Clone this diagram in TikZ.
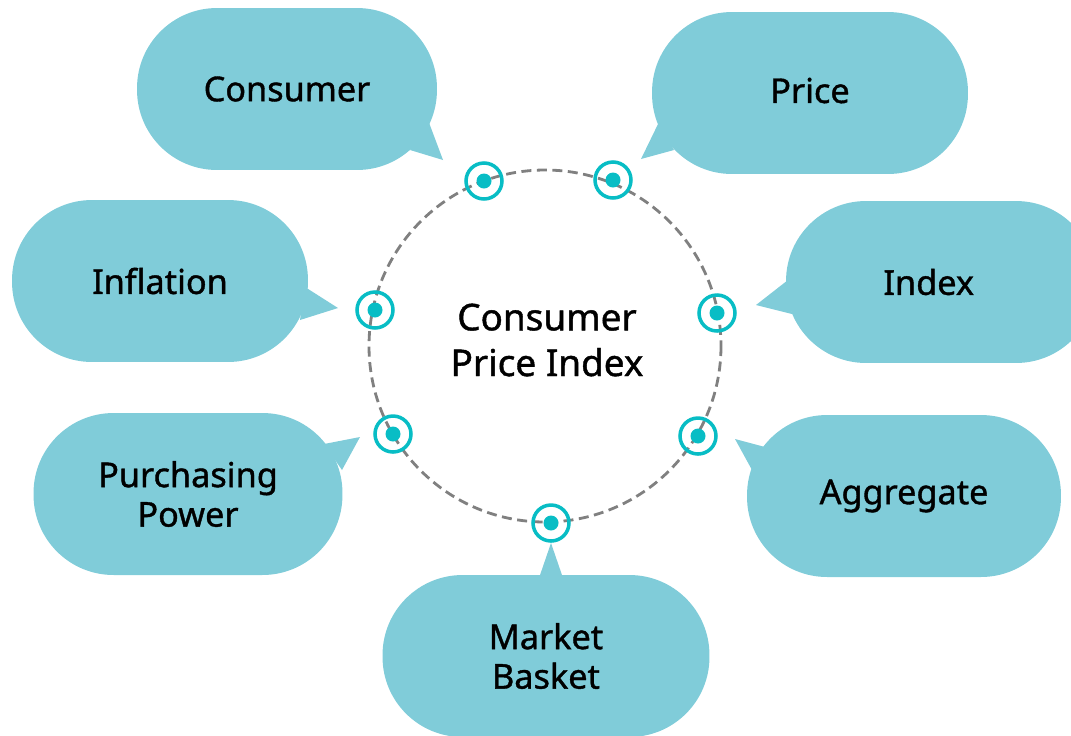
\documentclass[tikz,border=0pt]{standalone}
\usepackage{fontspec}
\setmainfont{Noto Sans}[FakeBold=1.1]
\usetikzlibrary{calc}

\definecolor{bubblefill}{RGB}{128,204,217}
\definecolor{ringcol}{RGB}{8,189,197}
\definecolor{trackcol}{RGB}{128,128,128}

\tikzset{
  bubble/.style={fill=bubblefill, rounded corners=1.6cm, minimum height=3.24cm,
    align=center, inner sep=0pt, font=\fontsize{19.5}{22.5}\selectfont\bfseries},
  ring/.style={circle, draw=ringcol, line width=2pt, minimum size=0.72cm, inner sep=0pt},
  dot/.style={circle, fill=ringcol, minimum size=0.3cm, inner sep=0pt},
}

\begin{document}
\begin{tikzpicture}[x=0.02cm,y=-0.02cm]
  \useasboundingbox (0,0) rectangle (1071,735);
  \clip (0,0) rectangle (1071,735);

  % tails of the bubbles
  \foreach \tip/\ba/\bb in {{(443,160)}/{(428,120)}/{(410,150)},
                            {(641,159)}/{(659,122)}/{(674,150)},
                            {(338,308)}/{(305,287)}/{(300,320)},
                            {(756,305)}/{(788,280)}/{(792,314)},
                            {(360,437)}/{(324,444)}/{(342,470)},
                            {(735,439)}/{(765,447)}/{(752,470)},
                            {(551,543)}/{(539,578)}/{(563,578)}}
    \fill[bubblefill] \tip -- \ba -- \bb -- cycle;

  % bubbles
  \node[bubble, minimum width=6cm]    (consumer)  at (287,89)  {Consumer};
  \node[bubble, minimum width=6.32cm] (price)     at (810,93)  {\raisebox{3pt}{Price}};
  \node[bubble, minimum width=5.92cm] (inflation) at (160,281) {Inflation};
  \node[bubble, minimum width=6.2cm]  (index)     at (941,282) {\hspace*{-14pt}Index};
  \node[bubble, minimum width=6.18cm] (purchasing) at (188,494) {Purchasing\\Power};
  \node[bubble, minimum width=6.28cm] (aggregate) at (904,496) {Aggregate};
  \node[bubble, minimum width=6.54cm] (basket)    at (546,656) {Market\\Basket};

  % dashed ring in the middle
  \coordinate (hub) at (545,346);
  \draw[trackcol, line width=1.6pt, dash pattern=on 0.2cm off 0.11cm] (hub) circle (176);
  \node[align=center, font=\fontsize{21}{26}\selectfont\bfseries] (cpi) at (547,340) {Consumer\\Price Index};

  % markers on the ring
  \foreach \n/\x/\y in {m1/484/181, m2/613/180, m3/375/310, m4/717/313,
                        m5/393/434, m6/698/436, m7/551/523} {
    \node[ring] (\n) at (\x,\y) {};
    \node[dot] at (\n) {};
  }
\end{tikzpicture}
\end{document}
